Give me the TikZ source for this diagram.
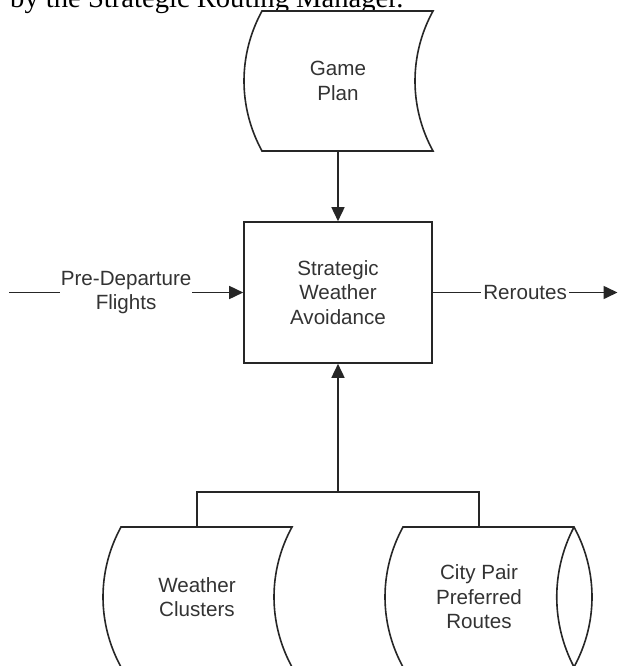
\documentclass[tikz,border=0pt]{standalone}
\usepackage{fontspec}
\setmainfont{Liberation Sans}
\newfontfamily\serifface{Liberation Serif}
\usetikzlibrary{arrows.meta}
\begin{document}
\begin{tikzpicture}[x=1pt,y=-1pt,
  line/.style={draw=black!85, line width=1.6pt},
  arr/.style={line, -{Triangle[length=14pt,width=13pt]}},
  lbl/.style={text=black!80, font=\fontsize{20.6}{24.5}\selectfont, align=center, inner sep=1pt}]
\useasboundingbox (0,0) rectangle (618,666);
\clip (0,0) rectangle (618,666);
% caption remnant at the top
\node[anchor=base west, inner sep=0, font=\serifface\fontsize{28.6}{30}\selectfont] (cap) at (10,8) {by the Strategic Routing Manager.};
% Game Plan
\draw[line, fill=white] (262,11) -- (433,11) .. controls (409,55) and (409,107) .. (433,151) -- (262,151) .. controls (238,107) and (238,55) .. (262,11) -- cycle;
\node[lbl] (gp) at (338,81) {Game\\Plan};
\coordinate (gpB) at (338,151);
% main box
\node[line, lbl, minimum width=188pt, minimum height=141pt, inner sep=0] (box) at (338,292.5) {Strategic\\Weather\\Avoidance};
\draw[arr] (gpB) -- (box.north);
% Pre-Departure
\coordinate (pdS) at (9,292.5);
\draw[arr] (pdS) -- (box.west) node[midway, lbl, fill=white] (pd) {Pre-Departure\\Flights};
% Reroutes
\coordinate (rrE) at (617.5,292.5);
\draw[arr] (box.east) -- (rrE) node[midway, lbl, fill=white, inner xsep=2pt] (rr) {Reroutes};
% bottom stores
\coordinate (wcT) at (197,527);
\coordinate (cpT) at (479,527);
\coordinate (jn) at (338,492);
\draw[line] (wcT) -- (wcT |- jn) -- (cpT |- jn) -- (cpT);
\draw[arr] (jn) -- (box.south);
% Weather Clusters
\draw[line] (121,527) -- (292,527) .. controls (268,571) and (268,623) .. (292,667) -- (121,667) .. controls (97,623) and (97,571) .. (121,527) -- cycle;
\node[lbl] (wc) at (197,597) {Weather\\Clusters};
% City Pair Preferred Routes
\draw[line] (403,527) -- (574,527) .. controls (598,571) and (598,623) .. (574,667) -- (403,667) .. controls (379,623) and (379,571) .. (403,527) -- cycle;
\draw[line] (574,527) .. controls (551,571) and (551,623) .. (574,667);
\node[lbl] (cp) at (479,597) {City Pair\\Preferred\\Routes};
\end{tikzpicture}
\end{document}
